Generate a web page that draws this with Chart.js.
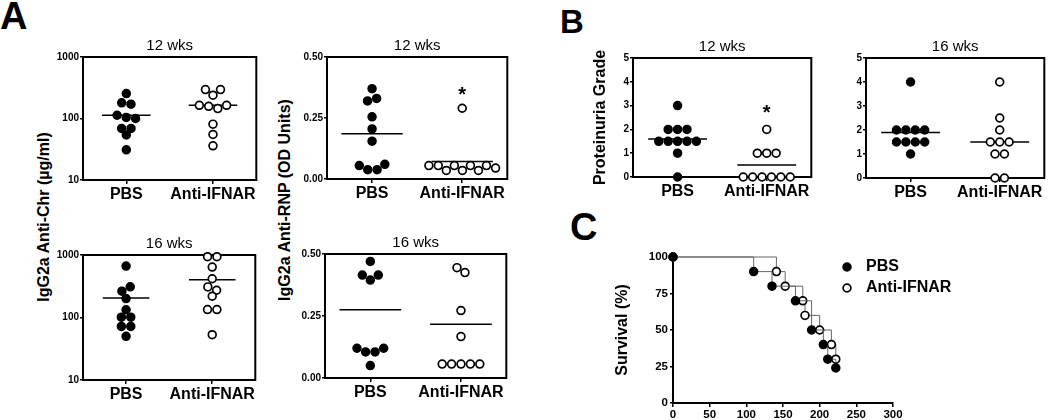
<!DOCTYPE html>
<html>
<head>
<meta charset="utf-8" />
<title>Anti-IFNAR: autoantibodies, proteinuria, survival</title>
<script src="https://cdn.jsdelivr.net/npm/chart.js@4.4.0/dist/chart.umd.min.js"></script>
<style>
    body { margin: 0; background: #fff; }
    #fig { position: relative; width: 1050px; height: 420px; overflow: hidden; font-family: 'Liberation Sans', Arial, sans-serif; color: #000; }
    .panel { position: absolute; }
    .letter { position: absolute; font-weight: bold; line-height: 1; }
    .ytitle { position: absolute; font-weight: bold; font-size: 16px; line-height: 1; white-space: nowrap; transform: translate(-50%, -50%) rotate(-90deg); }
</style>
</head>
<body>
<div id="fig">
    <div class="letter" style="left:0px;top:-3px;font-size:38px">A</div>
    <div class="letter" style="left:560px;top:5px;font-size:33px">B</div>
    <div class="letter" style="left:570px;top:208px;font-size:38px">C</div>

    <div class="ytitle" style="left:44px;top:217px">IgG2a Anti-Chr (µg/ml)</div>
    <div class="ytitle" style="left:285px;top:200px">IgG2a Anti-RNP (OD Units)</div>

    <div class="panel" style="left:43px;top:37px;width:219px;height:173px"><canvas id="chr12"></canvas></div>
    <div class="panel" style="left:287px;top:37px;width:226px;height:172px"><canvas id="rnp12"></canvas></div>
    <div class="panel" style="left:43px;top:235px;width:218px;height:175px"><canvas id="chr16"></canvas></div>
    <div class="panel" style="left:285px;top:234px;width:227px;height:174px"><canvas id="rnp16"></canvas></div>
    <div class="panel" style="left:585px;top:38px;width:232px;height:169px"><canvas id="prot12"></canvas></div>
    <div class="panel" style="left:826px;top:38px;width:224px;height:170px"><canvas id="prot16"></canvas></div>
    <div class="panel" style="left:600px;top:240px;width:450px;height:180px"><canvas id="surv"></canvas></div>
</div>

<script>
    // values
    const groups = ['PBS', 'Anti-IFNAR'];

    const chr12Pbs = [254, 180, 171, 113, 104, 100, 69, 69, 54, 31];
    const chr12Anti = [295, 239, 295, 164, 158, 145, 164, 81, 55, 36];
    const chr12Means = [113, 164];
    const chr16Pbs = [665, 264, 310, 201, 133, 101, 101, 72, 72, 50];
    const chr16Anti = [940, 940, 641, 417, 309, 273, 219, 134, 134, 53];
    const chr16Means = [206, 401];

    const rnp12Pbs = [0.37, 0.32, 0.33, 0.255, 0.205, 0.155, 0.055, 0.038, 0.038, 0.06];
    const rnp12Anti = [0.29, 0.055, 0.055, 0.035, 0.055, 0.035, 0.055, 0.035, 0.055, 0.045];
    const rnp12Means = [0.185, 0.072];
    const rnp16Pbs = [0.47, 0.415, 0.395, 0.415, 0.12, 0.105, 0.105, 0.12, 0.05];
    const rnp16Anti = [0.445, 0.425, 0.272, 0.167, 0.056, 0.056, 0.056, 0.056, 0.056];
    const rnp16Means = [0.275, 0.217];

    const prot12Pbs = [3, 2, 2, 2, 1.5, 1.5, 1.5, 1.5, 1.5, 1, 0];
    const prot12Anti = [2, 1, 1, 1, 0, 0, 0, 0, 0, 0];
    const prot12Means = [1.6, 0.5];
    const prot16Pbs = [4, 2, 2, 2, 2, 1.5, 1.5, 1.5, 1.5, 1];
    const prot16Anti = [4, 2.5, 2, 1.5, 1.5, 1.5, 1, 1, 0, 0];
    const prot16Means = [1.9, 1.5];

    const chrTicks = [10, 100, 1000];
    const rnpTicks = [0, 0.25, 0.5];
    const protTicks = [0, 1, 2, 3, 4, 5];

    const survDaysPbs = [0, 110, 135, 167, 189, 205, 211, 222];
    const survPbs = [100, 90, 80, 70, 50, 40, 30, 24];
    const survDaysAnti = [0, 141, 153, 177, 180, 200, 216, 222];
    const survAnti = [100, 90, 80, 70, 60, 50, 40, 30];
    const survXTicks = [0, 50, 100, 150, 200, 250, 300];
    const survYTicks = [0, 25, 50, 75, 100];

    const FONT = "'Liberation Sans', Arial, sans-serif";
    Chart.defaults.font.family = FONT;
    Chart.defaults.color = '#000';
    Chart.defaults.animation = false;
    Chart.defaults.events = [];
    Chart.defaults.plugins.legend.display = false;
    Chart.defaults.plugins.tooltip.enabled = false;

    const DOT_R = 3.9, DOT_BW = 1.7, DOT_D = 9.4;
    const tickGrid = (len) => ({ drawOnChartArea: false, tickLength: len, color: '#000', lineWidth: 1.5 });

    // box round the plot area, under the dots
    const framePlugin = {
        id: 'frame',
        beforeDatasetsDraw(chart) {
            const a = chart.chartArea, ctx = chart.ctx;
            ctx.save();
            ctx.strokeStyle = '#000';
            ctx.lineWidth = 2;
            ctx.strokeRect(a.left, a.top, a.right - a.left, a.bottom - a.top);
            ctx.restore();
        }
    };

    // prism-like rows: near-equal values sit side by side, row centred on the group
    function swarmOffsets(py, d) {
        const idx = py.map((_, i) => i).sort((a, b) => py[a] - py[b]);
        const rows = [];
        idx.forEach(i => {
            const r = rows[rows.length - 1];
            if (r && py[i] - py[r[0]] < 0.62 * d) r.push(i); else rows.push([i]);
        });
        const off = new Array(py.length).fill(0);
        rows.forEach(r => {
            r.sort((a, b) => a - b);
            const xs = [0];
            for (let k = 1; k < r.length; k++) {
                const dy = py[r[k]] - py[r[k - 1]];
                xs.push(xs[k - 1] + Math.max(Math.sqrt(Math.max(d * d - dy * dy, 0)), 0.6 * d));
            }
            const mid = (xs[0] + xs[xs.length - 1]) / 2;
            r.forEach((i, k) => { off[i] = xs[k] - mid; });
        });
        return off;
    }

    function dotPlot(id, title, sets, means, yAxis, halfLine, stars) {
        const datasets = sets.map((vals, g) => ({
            data: vals.map(v => ({ x: g + 1, y: v })),
            pointRadius: DOT_R,
            pointBorderWidth: DOT_BW,
            pointBorderColor: '#000',
            pointBackgroundColor: g === 0 ? '#000' : '#fff',
            clip: false
        }));
        means.forEach((m, g) => datasets.push({
            type: 'line',
            data: [{ x: g + 1 - halfLine, y: m }, { x: g + 1 + halfLine, y: m }],
            borderColor: '#000',
            borderWidth: 1.5,
            pointRadius: 0,
            clip: false
        }));

        const starPlugin = {
            id: 'stars',
            afterDatasetsDraw(chart) {
                const ctx = chart.ctx;
                ctx.save();
                ctx.font = 'bold 20px ' + FONT;
                ctx.textAlign = 'center';
                ctx.textBaseline = 'alphabetic';
                ctx.fillStyle = '#000';
                (stars || []).forEach(s => {
                    const x = chart.scales.x.getPixelForValue(s.x);
                    const y = chart.scales.y.getPixelForValue(s.y);
                    ctx.fillText('*', x, y + 11);
                });
                ctx.restore();
            }
        };

        const yScale = {
            type: yAxis.type,
            min: yAxis.ticks[0],
            max: yAxis.ticks[yAxis.ticks.length - 1],
            afterBuildTicks: s => { s.ticks = yAxis.ticks.map(v => ({ value: v })); },
            afterFit: s => { s.width = yAxis.width; },
            ticks: { callback: yAxis.fmt, font: { size: 10, weight: 'bold' }, padding: 1, autoSkip: false },
            grid: tickGrid(3),
            border: { display: false }
        };
        if (yAxis.title) {
            yScale.title = { display: true, text: yAxis.title, font: { size: 16, weight: 'bold' }, padding: { top: 6, bottom: 0 } };
        }

        const chart = new Chart(document.getElementById(id), {
            type: 'scatter',
            data: { datasets },
            options: {
                responsive: true,
                maintainAspectRatio: false,
                layout: { padding: { left: 0, right: 4, top: 0, bottom: 0 } },
                plugins: {
                    title: { display: true, text: title, fullSize: false, font: { size: 15, weight: 'normal' }, padding: { top: 0, bottom: 2 } }
                },
                scales: {
                    x: {
                        type: 'linear', min: 0.5, max: 2.5,
                        afterBuildTicks: s => { s.ticks = groups.map((_, i) => ({ value: i + 1 })); },
                        afterFit: s => { s.height = 30; },
                        ticks: { callback: v => groups[v - 1], font: { size: 16, weight: 'bold' }, padding: 1, maxRotation: 0, autoSkip: false },
                        grid: tickGrid(4),
                        border: { display: false }
                    },
                    y: yScale
                }
            },
            plugins: [framePlugin, starPlugin]
        });

        const xs = chart.scales.x, ys = chart.scales.y;
        const unit = xs.getPixelForValue(2) - xs.getPixelForValue(1);
        sets.forEach((vals, g) => {
            const off = swarmOffsets(vals.map(v => ys.getPixelForValue(v)), DOT_D);
            chart.data.datasets[g].data = vals.map((v, i) => ({ x: g + 1 + off[i] / unit, y: v }));
        });
        chart.update('none');
        return chart;
    }

    const chrAxis = { type: 'logarithmic', ticks: chrTicks, fmt: v => String(v), width: 40 };
    const rnpAxis = { type: 'linear', ticks: rnpTicks, fmt: v => v.toFixed(2), width: 40 };

    dotPlot('chr12', '12 wks', [chr12Pbs, chr12Anti], chr12Means, chrAxis, 0.28);
    dotPlot('chr16', '16 wks', [chr16Pbs, chr16Anti], chr16Means, chrAxis, 0.27);
    dotPlot('rnp12', '12 wks', [rnp12Pbs, rnp12Anti], rnp12Means, rnpAxis, 0.34, [{ x: 2, y: 0.365 }]);
    dotPlot('rnp16', '16 wks', [rnp16Pbs, rnp16Anti], rnp16Means, rnpAxis, 0.34);
    dotPlot('prot12', '12 wks', [prot12Pbs, prot12Anti], prot12Means,
        { type: 'linear', ticks: protTicks, fmt: v => String(v), width: 48, title: 'Proteinuria Grade' }, 0.33, [{ x: 2, y: 2.92 }]);
    dotPlot('prot16', '16 wks', [prot16Pbs, prot16Anti], prot16Means,
        { type: 'linear', ticks: protTicks, fmt: v => String(v), width: 40 }, 0.33);

    // survival legend sits inside the plot, upper right
    const survLegend = {
        id: 'survLegend',
        afterDraw(chart) {
            const ctx = chart.ctx, a = chart.chartArea;
            ctx.save();
            ctx.font = 'bold 16px ' + FONT;
            ctx.textBaseline = 'middle';
            chart.data.datasets.forEach((ds, i) => {
                const x = a.left + 174, y = a.top + 10 + i * 21;
                ctx.beginPath();
                ctx.arc(x, y, DOT_R, 0, Math.PI * 2);
                ctx.fillStyle = ds.pointBackgroundColor;
                ctx.fill();
                ctx.lineWidth = DOT_BW;
                ctx.strokeStyle = '#000';
                ctx.stroke();
                ctx.fillStyle = '#000';
                ctx.fillText(ds.label, x + 19, y);
            });
            ctx.restore();
        }
    };

    const survSet = (label, days, surv, fill) => ({
        label,
        data: days.map((d, i) => ({ x: d, y: surv[i] })),
        stepped: true,
        borderColor: '#666',
        borderWidth: 1,
        pointRadius: DOT_R,
        pointBorderWidth: DOT_BW,
        pointBorderColor: '#000',
        pointBackgroundColor: fill,
        clip: false
    });

    new Chart(document.getElementById('surv'), {
        type: 'line',
        data: {
            datasets: [
                survSet('PBS', survDaysPbs, survPbs, '#000'),
                survSet('Anti-IFNAR', survDaysAnti, survAnti, '#fff')
            ]
        },
        options: {
            responsive: true,
            maintainAspectRatio: false,
            layout: { padding: { left: 0, top: 17, right: 157, bottom: 0 } },
            scales: {
                x: {
                    type: 'linear', min: 0, max: 300,
                    afterBuildTicks: s => { s.ticks = survXTicks.map(v => ({ value: v })); },
                    afterFit: s => { s.height = 17; },
                    ticks: { font: { size: 11.5, weight: 'bold' }, padding: 1, maxRotation: 0, autoSkip: false },
                    grid: tickGrid(4),
                    border: { display: true, color: '#000', width: 2 }
                },
                y: {
                    type: 'linear', min: 0, max: 100,
                    afterBuildTicks: s => { s.ticks = survYTicks.map(v => ({ value: v })); },
                    afterFit: s => { s.width = 73; },
                    ticks: { font: { size: 11.5, weight: 'bold' }, padding: 2, autoSkip: false },
                    grid: tickGrid(3),
                    border: { display: true, color: '#000', width: 2 },
                    title: { display: true, text: 'Survival (%)', font: { size: 16, weight: 'bold' }, padding: { top: 13, bottom: 0 } }
                }
            }
        },
        plugins: [survLegend]
    });
</script>
</body>
</html>
